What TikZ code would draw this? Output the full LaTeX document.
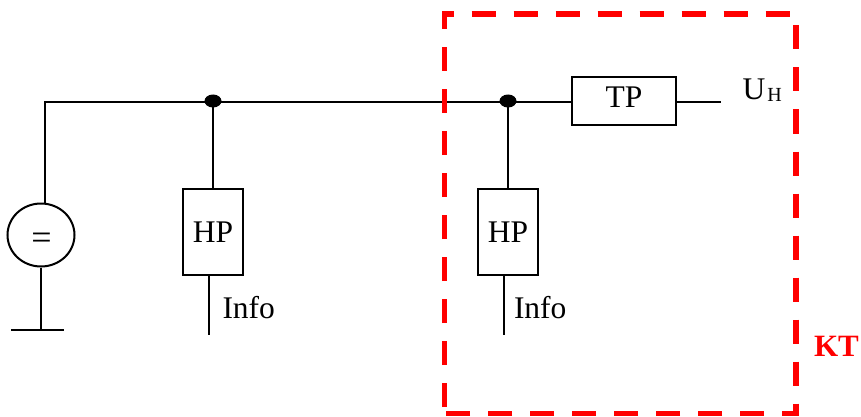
\documentclass[tikz,border=0pt]{standalone}
\usepackage{fontspec}
\usetikzlibrary{shapes.geometric}
\setmainfont{Liberation Serif}
\definecolor{kt}{RGB}{255,0,0}
\begin{document}
\begin{tikzpicture}[x=1pt,y=-1pt,line width=2pt,
  box/.style={draw,line width=2pt,inner sep=0pt,font=\fontsize{31.5}{34}\selectfont,text depth=0pt},
  hpbox/.style={box,minimum width=60pt,minimum height=86pt,text height=21pt},
  lbl/.style={inner sep=0pt,font=\fontsize{31.5}{34}\selectfont}]
\useasboundingbox (0,0) rectangle (861,417);
\coordinate (tl) at (45,102.5);
\coordinate (n1) at (213,101);
\coordinate (n2) at (508,101);
\coordinate (uend) at (721,102.5);
\node[draw,ellipse,line width=2pt,minimum width=67pt,minimum height=63pt,inner sep=0pt,font=\fontsize{36}{38}\selectfont,text height=29.4pt,text depth=0pt] (src) at (41,235) {\kern1pt=};
\node[hpbox] (hp1) at (213,231.5) {HP};
\node[hpbox] (hp2) at (508,231.5) {HP};
\node[box,minimum width=104pt,minimum height=48pt,text height=14pt] (tp) at (624,101) {TP};
\fill (n1) ellipse (8.5 and 6.5);
\fill (n2) ellipse (8.5 and 6.5);
\draw (tl |- src.north) -- (tl) -- (tl -| tp.west);
\draw (tl -| tp.east) -- (uend);
\draw (n1) -- (hp1.north);
\draw (n2) -- (hp2.north);
\coordinate (g) at (41,330);
\coordinate (i1) at (209,335);
\coordinate (i2) at (504,335);
\draw (src.south) -- (g);
\draw (11,330) -- (64,330);
\draw[line width=1.7pt] (i1 |- hp1.south) -- (i1);
\draw[line width=1.7pt] (i2 |- hp2.south) -- (i2);
\node[lbl,anchor=base west] (info1) at (221.5,318.5) {Info};
\node[lbl,anchor=base west] (info2) at (513,318.5) {Info};
\node[lbl,anchor=base west] (uh) at (741.5,99.5) {U\kern2pt\raisebox{-2pt}{\fontsize{20}{22}\selectfont H}};
\draw[kt,line width=5.5pt,dash pattern=on 24pt off 18pt] (444.5,407) -- (444.5,14) -- (796,14) -- (796,413.5) -- (445,413.5);
\node[inner sep=0pt,anchor=base west,text=kt,font=\bfseries\fontsize{31}{34}\selectfont] (ktl) at (813,356) {KT};
\end{tikzpicture}
\end{document}
